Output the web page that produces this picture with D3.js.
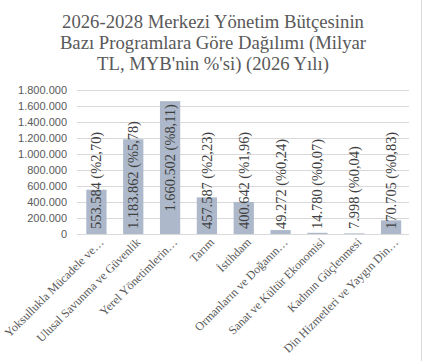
<!DOCTYPE html>
<html><head><meta charset="utf-8">
<script src="https://cdn.jsdelivr.net/npm/d3@7"></script>
<style>body{margin:0;background:#fff}svg{display:block}.serif{font-family:'Liberation Serif','Times New Roman',serif}.sans{font-family:'Liberation Sans',Arial,sans-serif}</style>
</head><body>
<script>
const categories = ["Yoksullukla Mücadele ve…","Ulusal Savunma ve Güvenlik","Yerel Yönetimlerin…","Tarım","İstihdam","Ormanların ve Doğanın…","Sanat ve Kültür Ekonomisi","Kadının Güçlenmesi","Din Hizmetleri ve Yaygın Din…"];
const values = [553584, 1183862, 1660502, 457587, 400642, 49272, 14780, 7998, 170705];
const percents = ["2,70","5,78","8,11","2,23","1,96","0,24","0,07","0,04","0,83"];
const yTicks = [0,200000,400000,600000,800000,1000000,1200000,1400000,1600000,1800000];
const titleLines = ["2026-2028 Merkezi Yönetim Bütçesinin","Bazı Programlara Göre Dağılımı (Milyar","TL, MYB'nin %'si) (2026 Yılı)"];

const W=425,H=361;
const loc = d3.formatLocale({decimal:",",thousands:".",grouping:[3],currency:["",""]});
const fmt = loc.format(",d");
const svg = d3.select("body").append("svg").attr("width",W).attr("height",H);
svg.append("rect").attr("width",W).attr("height",H).attr("fill","#fff");
svg.append("line").attr("x1",421.5).attr("x2",421.5).attr("y1",0).attr("y2",H).attr("stroke","#d9d9d9");

const x = d3.scaleBand().domain(categories).range([78,409.5]).paddingInner(0.45).paddingOuter(0.225);
const y = d3.scaleLinear().domain([0,1800000]).range([234,90]);

svg.append("g").selectAll("text").data(titleLines).join("text").attr("class","serif")
  .attr("x",213).attr("y",(d,i)=>28+i*21).attr("text-anchor","middle")
  .attr("font-size","18.7px").attr("fill","#595959").text(d=>d);

const gy = svg.append("g");
gy.selectAll("line").data(yTicks).join("line")
  .attr("x1",77).attr("x2",409).attr("y1",d=>Math.round(y(d))+0.5).attr("y2",d=>Math.round(y(d))+0.5)
  .attr("stroke","#d9d9d9");
gy.selectAll("text").data(yTicks).join("text").attr("class","sans")
  .attr("x",67).attr("y",d=>y(d)+4).attr("text-anchor","end")
  .attr("font-size","11px").attr("fill","#595959")
  .text(d=>fmt(d));

svg.append("g").selectAll("rect").data(values).join("rect")
  .attr("x",(d,i)=>x(categories[i])).attr("width",x.bandwidth())
  .attr("y",d=>y(d)).attr("height",d=>y(0)-y(d)).attr("fill","#adb9ca");

svg.append("g").selectAll("text").data(values).join("text").attr("class","serif")
  .attr("font-size","14.4px").attr("fill","#404040")
  .text((d,i)=>`${fmt(d)} (%${percents[i]})`)
  .attr("transform",function(d,i){
    const len=this.getComputedTextLength();
    const bottom=Math.min(y(0)-5, y(d)+3+len);
    return `translate(${x(categories[i])+x.bandwidth()/2+5},${bottom}) rotate(-90)`;
  });

svg.append("g").selectAll("text").data(categories).join("text").attr("class","serif")
  .attr("transform",d=>`translate(${x(d)+x.bandwidth()/2+8},${243}) rotate(-45)`)
  .attr("text-anchor","end")
  .attr("font-size","12px").attr("fill","#595959")
  .text(d=>d);
</script>
</body></html>
